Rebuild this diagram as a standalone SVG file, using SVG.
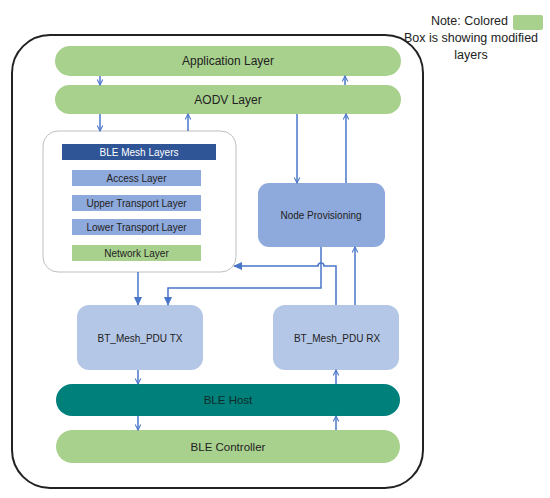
<svg xmlns="http://www.w3.org/2000/svg" width="550" height="498" viewBox="0 0 550 498">
<defs>
<style>
.t{font-family:"Liberation Sans",Arial,sans-serif;fill:#222;text-anchor:middle;dominant-baseline:central}
.c{fill:none;stroke:#4A76C9;stroke-width:1.5}
.g{fill:#A9D18E}
</style>
<marker id="v" viewBox="0 0 10 10" refX="9" refY="5" markerWidth="7" markerHeight="7" orient="auto" markerUnits="userSpaceOnUse">
<path d="M1,1 L9,5 L1,9" fill="none" stroke="#4A76C9" stroke-width="1.5"/>
</marker>
<marker id="f" viewBox="0 0 10 10" refX="9" refY="5" markerWidth="9" markerHeight="9" orient="auto" markerUnits="userSpaceOnUse">
<path d="M0,0.5 L10,5 L0,9.5 Z" fill="#4A76C9"/>
</marker>
</defs>
<rect width="550" height="498" fill="#fff"/>
<rect x="12" y="35" width="411" height="453" rx="38" fill="none" stroke="#222" stroke-width="2"/>

<g id="legend">
<text class="t" x="508" y="21" style="font-size:12.5px;text-anchor:end">Note: Colored</text>
<rect x="513" y="15" width="30" height="15" rx="2" class="g"/>
<text class="t" x="471" y="38" style="font-size:12.5px">Box is showing modified</text>
<text class="t" x="471" y="55" style="font-size:12.5px">layers</text>
</g>

<g id="app"><rect x="55" y="46" width="346" height="30" rx="15" class="g"/><text class="t" x="228" y="61" style="font-size:12px">Application Layer</text></g>
<g id="aodv"><rect x="55" y="85" width="346" height="29" rx="14.5" class="g"/><text class="t" x="228" y="100" style="font-size:12px">AODV Layer</text></g>

<g id="mesh">
<rect x="43" y="131" width="193" height="141" rx="15" fill="#fff" stroke="#BFBFBF" stroke-width="1"/>
<rect x="62" y="144" width="154" height="16" fill="#2F5597"/>
<text class="t" x="139" y="152" style="font-size:10px;fill:#fff">BLE Mesh Layers</text>
<rect x="72" y="170" width="129" height="16" fill="#8EA9DB"/>
<text class="t" x="136.5" y="178" style="font-size:10px">Access Layer</text>
<rect x="72" y="195" width="129" height="16" fill="#8EA9DB"/>
<text class="t" x="136.5" y="203" style="font-size:10px">Upper Transport Layer</text>
<rect x="72" y="219" width="129" height="16" fill="#8EA9DB"/>
<text class="t" x="136.5" y="227" style="font-size:10px">Lower Transport Layer</text>
<rect x="72" y="245" width="129" height="16" fill="#A9D18E"/>
<text class="t" x="136.5" y="253" style="font-size:10px">Network Layer</text>
</g>

<g id="prov"><rect x="258" y="183" width="127" height="64" rx="11" fill="#8EA9DB"/><text class="t" x="321" y="215" style="font-size:10px">Node Provisioning</text></g>
<g id="tx"><rect x="77" y="305" width="126" height="65" rx="12" fill="#B4C7E7"/><text class="t" x="140" y="338" style="font-size:10px">BT_Mesh_PDU TX</text></g>
<g id="rx"><rect x="273" y="305" width="126" height="65" rx="12" fill="#B4C7E7"/><text class="t" x="337" y="338" style="font-size:10px">BT_Mesh_PDU RX</text></g>
<g id="host"><rect x="56" y="384" width="344" height="32" rx="16" fill="#00807A"/><text class="t" x="228" y="400" style="font-size:11.5px;fill:#0d2a2a">BLE Host</text></g>
<g id="ctrl"><rect x="56" y="430" width="344" height="33" rx="16.5" class="g"/><text class="t" x="228" y="447" style="font-size:11.5px">BLE Controller</text></g>

<g id="connectors">
<path class="c" d="M100,76 V85" marker-end="url(#v)"/>
<path class="c" d="M345,85 V76" marker-end="url(#v)"/>
<path class="c" d="M100,114 V131" marker-end="url(#v)"/>
<path class="c" d="M188,131 V114" marker-end="url(#v)"/>
<path class="c" d="M297,114 V183" marker-end="url(#v)"/>
<path class="c" d="M346,183 V114" marker-end="url(#v)"/>
<path class="c" d="M138,272 V305" marker-end="url(#f)"/>
<path class="c" d="M321,247 V288 H168 V305" marker-end="url(#f)"/>
<path class="c" d="M336,305 V266 H324 A3,3 0 0 0 318,266 H234" marker-end="url(#f)"/>
<path class="c" d="M355,305 V247" marker-end="url(#v)"/>
<path class="c" d="M138,370 V384" marker-end="url(#v)"/>
<path class="c" d="M336,384 V370" marker-end="url(#v)"/>
<path class="c" d="M138,416 V430" marker-end="url(#v)"/>
<path class="c" d="M336,430 V416" marker-end="url(#v)"/>
</g>
</svg>
